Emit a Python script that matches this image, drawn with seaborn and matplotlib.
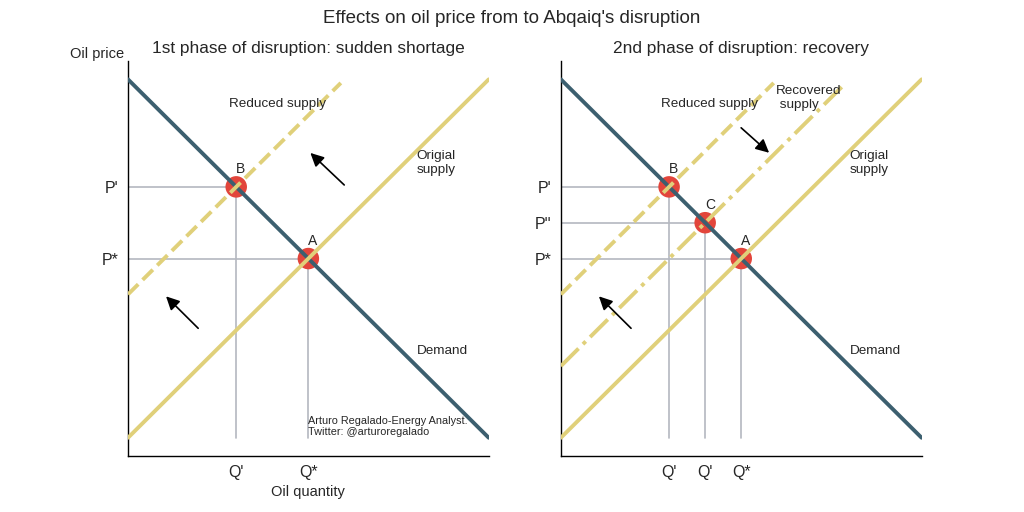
import numpy as np
import pandas as pd
import seaborn as sns
import matplotlib.pyplot as plt

# line end points (quantity, price)
demand_q = [0, 10]
demand_p = [10, 0]
supply_q = [0, 10]
supply_p = [0, 10]
reduced_q = [0, 5.9]
reduced_p = [4, 9.9]
recovered_q = [0, 7.8]
recovered_p = [2, 9.8]

# equilibrium points
left_pts = ["A", "B"]
left_q = [5, 3]
left_p = [5, 7]
right_pts = ["A", "B", "C"]
right_q = [5, 3, 4]
right_p = [5, 7, 6]

left_yticks = [7, 5]
left_ylabels = ["P'", "P*"]
left_xticks = [3, 5]
left_xlabels = ["Q'", "Q*"]
right_yticks = [7, 6, 5]
right_ylabels = ["P'", "P''", "P*"]
right_xticks = [3, 4, 5]
right_xlabels = ["Q'", "Q'", "Q*"]

c_dem = "#3c5f6f"
c_sup = "#e0d07a"
c_red = "#e2453b"
c_grid = "#b4b8c0"

sns.set_theme(style="white")
plt.rcParams['font.family'] = ['Liberation Sans', 'DejaVu Sans']

fig, axes = plt.subplots(1, 2, figsize=(10.24, 5.12), dpi=100)
fig.suptitle("Effects on oil price from to Abqaiq's disruption", fontsize=13.5)


def draw(ax, pts, qs, ps, recovered):
    for q, p in zip(qs, ps):
        ax.plot([0, q], [p, p], color=c_grid, lw=1.2, zorder=1)
        ax.plot([q, q], [0, p], color=c_grid, lw=1.2, zorder=1)
    sns.scatterplot(x=qs, y=ps, color=c_red, s=240, edgecolor="none", ax=ax, zorder=2)
    sns.lineplot(x=demand_q, y=demand_p, color=c_dem, lw=2.8, ax=ax, zorder=3)
    sns.lineplot(x=supply_q, y=supply_p, color=c_sup, lw=2.8, ax=ax, zorder=3)
    sns.lineplot(x=reduced_q, y=reduced_p, color=c_sup, lw=2.8, linestyle="--", ax=ax, zorder=3)
    if recovered:
        sns.lineplot(x=recovered_q, y=recovered_p, color=c_sup, lw=2.8, linestyle="-.", ax=ax, zorder=3)
    for name, q, p in zip(pts, qs, ps):
        ax.text(q + 0.13, p + 0.5, name, ha="center", va="center", fontsize=10)
    ax.text(8.0, 7.67, "Origial\nsupply", va="center", fontsize=9.7)
    ax.text(8.0, 2.42, "Demand", va="center", fontsize=9.7)
    ax.set_xlim(0, 10)
    ax.set_ylim(-0.5, 10.5)
    ax.tick_params(axis="both", labelsize=11.5, length=0)
    ax.tick_params(axis="y", pad=7)
    ax.tick_params(axis="x", pad=7)
    sns.despine(ax=ax)
    for s in ["left", "bottom"]:
        ax.spines[s].set_color("black")
        ax.spines[s].set_linewidth(1)


ax = axes[0]
draw(ax, left_pts, left_q, left_p, False)
ax.set_title("1st phase of disruption: sudden shortage", fontsize=12.4)
ax.set_xticks(left_xticks, left_xlabels)
ax.set_yticks(left_yticks, left_ylabels)
ax.text(2.8, 9.3, "Reduced supply", va="center", fontsize=9.7)
ax.text(5.0, 0.31, "Arturo Regalado-Energy Analyst.\nTwitter: @arturoregalado", va="center", fontsize=7.8)
ax.annotate("", xy=(5.0, 8.0), xytext=(6.05, 7.0),
            arrowprops=dict(arrowstyle="-|>", color="black", lw=1.2, mutation_scale=20))
ax.annotate("", xy=(1.0, 4.0), xytext=(2.0, 3.0),
            arrowprops=dict(arrowstyle="-|>", color="black", lw=1.2, mutation_scale=20))
ax.set_xlabel("Oil quantity", fontsize=10.5, labelpad=3)
ax.set_ylabel("Oil price", fontsize=10.5, rotation=0, ha="right", va="center")
ax.yaxis.set_label_coords(-0.01, 1.018)

ax = axes[1]
draw(ax, right_pts, right_q, right_p, True)
ax.set_title("2nd phase of disruption: recovery", fontsize=12.4)
ax.set_xticks(right_xticks, right_xlabels)
ax.set_yticks(right_yticks, right_ylabels)
ax.text(2.78, 9.3, "Reduced supply", va="center", fontsize=9.7)
ax.text(5.97, 9.48, "Recovered\n supply", va="center", fontsize=9.7)
ax.annotate("", xy=(1.0, 4.0), xytext=(2.0, 3.0),
            arrowprops=dict(arrowstyle="-|>", color="black", lw=1.2, mutation_scale=20))
ax.annotate("", xy=(5.83, 7.9), xytext=(4.94, 8.7),
            arrowprops=dict(arrowstyle="-|>", color="black", lw=1.2, mutation_scale=20))

fig.savefig("out.png", dpi=100)
